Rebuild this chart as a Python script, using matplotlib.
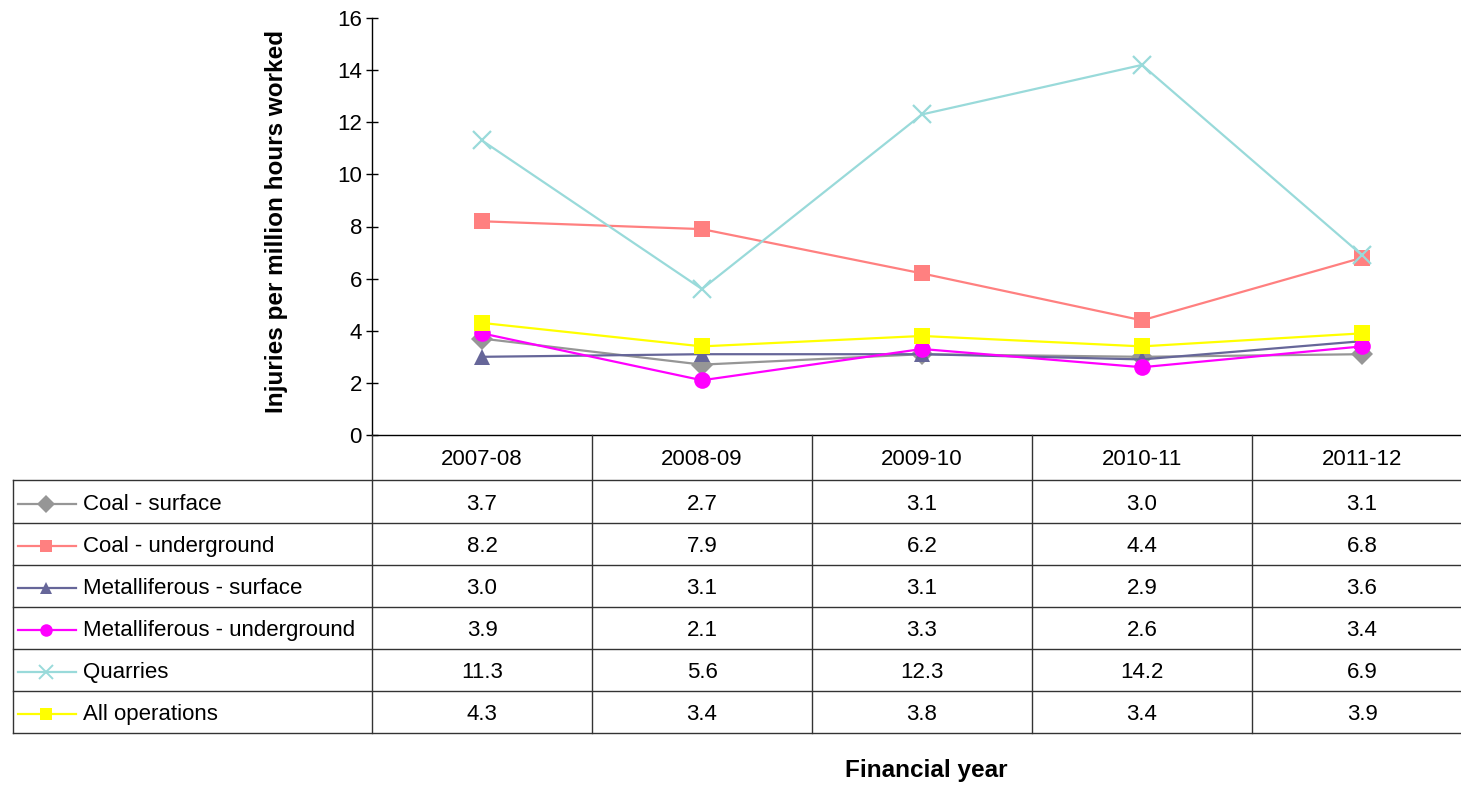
import matplotlib
matplotlib.use('Agg')
import matplotlib.pyplot as plt
from matplotlib.lines import Line2D

plt.rcParams['font.family'] = ['Liberation Sans', 'DejaVu Sans']

years = ['2007-08', '2008-09', '2009-10', '2010-11', '2011-12']
coal_surface = [3.7, 2.7, 3.1, 3.0, 3.1]
coal_underground = [8.2, 7.9, 6.2, 4.4, 6.8]
metal_surface = [3.0, 3.1, 3.1, 2.9, 3.6]
metal_underground = [3.9, 2.1, 3.3, 2.6, 3.4]
quarries = [11.3, 5.6, 12.3, 14.2, 6.9]
all_operations = [4.3, 3.4, 3.8, 3.4, 3.9]

series = [
    ('Coal - surface', coal_surface, '#969696', 'D'),
    ('Coal - underground', coal_underground, '#FF8080', 's'),
    ('Metalliferous - surface', metal_surface, '#666699', '^'),
    ('Metalliferous - underground', metal_underground, '#FF00FF', 'o'),
    ('Quarries', quarries, '#99DADA', 'x'),
    ('All operations', all_operations, '#FFFF00', 's'),
]

W, H = 1461, 787
fig = plt.figure(figsize=(W / 100, H / 100), dpi=100)
FS = 16


def fx(x):
    return x / W


def fy(y):
    return 1 - y / H


# plot area in pixel terms
left, right, top, bottom = 372, 1472, 18, 435
ax = fig.add_axes([fx(left), fy(bottom), fx(right) - fx(left), fy(top) - fy(bottom)])
ax.set_xlim(-0.5, len(years) - 0.5)
ax.set_ylim(0, 16)
ax.set_yticks(range(0, 17, 2))
ax.set_xticks([])
ax.tick_params(axis='y', direction='inout', length=8.5, width=1, labelsize=FS, pad=3)
for s in ['top', 'right']:
    ax.spines[s].set_visible(False)
ax.spines['left'].set_linewidth(1)
ax.spines['bottom'].set_linewidth(1)
fig.text(fx(277), fy((top + bottom) / 2 - 5), 'Injuries per million hours worked', rotation=90,
         ha='center', va='center', fontsize=17.5, fontweight='bold')

xs = range(len(years))
for name, vals, col, mk in series:
    if mk == 'x':
        ax.plot(xs, vals, color=col, lw=1.6, marker=mk, markersize=13, markeredgewidth=1.6, clip_on=False)
    else:
        ms = 12 if mk != 'D' else 11
        ax.plot(xs, vals, color=col, lw=1.6, marker=mk, markersize=ms, markeredgewidth=0, clip_on=False)

# data table under the chart
tab_left = 13
rows = [480, 523, 565, 607, 649, 691, 733]
col_w = (right - left) / len(years)
line_kw = dict(color='#333333', lw=1, transform=fig.transFigure)

fig.add_artist(Line2D([fx(left), fx(left)], [fy(bottom), fy(rows[-1])], **line_kw))
for i in range(1, len(years) + 1):
    x = left + i * col_w
    fig.add_artist(Line2D([fx(x), fx(x)], [fy(bottom), fy(rows[-1])], **line_kw))
fig.add_artist(Line2D([fx(tab_left), fx(tab_left)], [fy(rows[0]), fy(rows[-1])], **line_kw))
for y in rows:
    fig.add_artist(Line2D([fx(tab_left), fx(right)], [fy(y), fy(y)], **line_kw))

for i, yr in enumerate(years):
    cx = left + (i + 0.5) * col_w
    fig.text(fx(cx), fy((bottom + rows[0]) / 2 + 2), yr, ha='center', va='center', fontsize=FS)

for r, (name, vals, col, mk) in enumerate(series):
    cy = (rows[r] + rows[r + 1]) / 2
    fig.add_artist(Line2D([fx(18), fx(76)], [fy(cy + 2), fy(cy + 2)], color=col, lw=1.6,
                          transform=fig.transFigure))
    ms = 9 if mk != 'x' else 10
    mew = 1.4 if mk == 'x' else 0
    fig.add_artist(Line2D([fx(46)], [fy(cy + 2)], color=col, marker=mk, markersize=ms,
                          markeredgewidth=mew, linestyle='none', transform=fig.transFigure))
    fig.text(fx(83), fy(cy + 2.5), name, ha='left', va='center', fontsize=FS)
    for i, v in enumerate(vals):
        cx = left + (i + 0.5) * col_w
        fig.text(fx(cx), fy(cy + 2.5), f'{v:.1f}', ha='center', va='center', fontsize=FS)

fig.text(fx(926), fy(771), 'Financial year', ha='center', va='center', fontsize=17.5, fontweight='bold')

fig.savefig('out.png', dpi=100)
